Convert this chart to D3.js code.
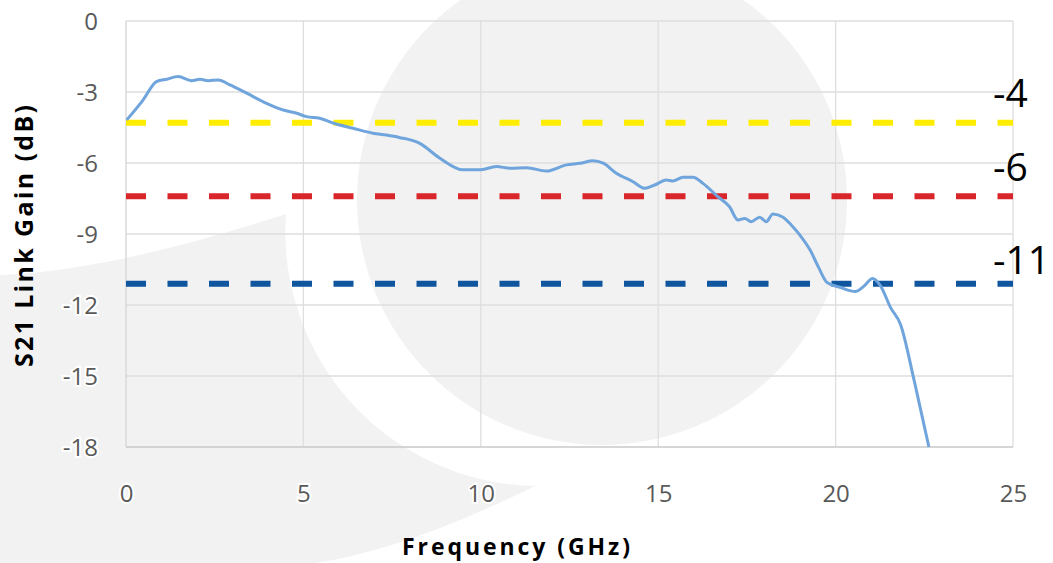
<!DOCTYPE html>
<html lang="en">
  <head>
    <meta charset="UTF-8" />
    <title>S21 Link Gain vs Frequency</title>
    <script src="https://cdn.jsdelivr.net/npm/d3@7/dist/d3.min.js"></script>
    <style>
      body {
        margin: 0;
        background: #fff;
      }
      text {
        font-family: "Open Sans", sans-serif;
      }
      .tick-label {
        font-size: 24px;
        fill: #595959;
        stroke: #fff;
        stroke-width: 4px;
        paint-order: stroke;
      }
      .axis-title {
        font-size: 23px;
        font-weight: bold;
        fill: #000;
      }
      .limit-label {
        font-size: 39px;
        fill: #000;
      }
    </style>
  </head>
  <body>
    <svg width="1053" height="563"></svg>
    <script>
      const svg = d3.select("svg"),
        width = +svg.attr("width"),
        height = +svg.attr("height");

      const freq = [
        0.02, 0.48, 0.86, 1.15, 1.47, 1.85, 2.08, 2.32, 2.6, 2.93, 3.4, 3.96,
        4.43, 4.81, 5.09, 5.46, 5.83, 6.4, 6.96, 7.34, 7.7, 8.28, 8.85, 9.5,
        9.97, 10.44, 10.82, 11.29, 11.85, 12.41, 12.8, 13.16, 13.45, 13.82,
        14.29, 14.62, 14.9, 15.23, 15.41, 15.7, 15.98, 16.26, 16.68, 17.01,
        17.25, 17.44, 17.62, 17.86, 18.05, 18.23, 18.52, 18.75, 19.0, 19.29,
        19.52, 19.76, 20.14, 20.56, 20.8, 21.04, 21.27, 21.55, 21.83, 22.22,
        22.63,
      ];
      const gain = [
        -4.18, -3.34, -2.56, -2.46, -2.35, -2.52, -2.46, -2.52, -2.49, -2.7,
        -3.05, -3.48, -3.76, -3.9, -4.04, -4.11, -4.31, -4.53, -4.74, -4.82,
        -4.92, -5.17, -5.8, -6.29, -6.29, -6.15, -6.22, -6.2, -6.34, -6.08,
        -6.01, -5.91, -6.01, -6.43, -6.79, -7.07, -6.93, -6.72, -6.76, -6.6,
        -6.6, -6.86, -7.42, -7.85, -8.41, -8.34, -8.48, -8.29, -8.48, -8.15,
        -8.29, -8.62, -9.06, -9.7, -10.41, -11.05, -11.26, -11.43, -11.2,
        -10.88, -11.2, -12.11, -12.82, -15.23, -18.0,
      ];

      // dashed reference lines and their labels
      const limitValues = [-4.3, -7.4, -11.1];
      const limitLabels = ["-4", "-6", "-11"];
      const limitColors = ["#ffed00", "#d9262b", "#0f569f"];
      const labelBaselines = [107, 181, 274];

      const xTicks = [0, 5, 10, 15, 20, 25];
      const yTicks = [0, -3, -6, -9, -12, -15, -18];

      const margin = { left: 126, right: 40, top: 21, bottom: 116 };

      const x = d3
        .scaleLinear()
        .domain([0, 25])
        .range([margin.left, width - margin.right]);
      const y = d3
        .scaleLinear()
        .domain([-18, 0])
        .range([height - margin.bottom, margin.top]);

      // background watermark
      const wm = svg.append("g").attr("fill", "#f2f2f2");
      wm.append("path").attr(
        "d",
        "M286,214 Q111,271 0,275 L0,563 L315,563 Q405,550 535,486 A254,254 0 0 1 286,214 Z"
      );
      wm.append("circle").attr("cx", 602).attr("cy", 200).attr("r", 245);

      // grid
      const grid = svg.append("g").attr("stroke", "#dedede").attr("stroke-width", 1.3);
      grid
        .selectAll(".hgrid")
        .data(yTicks.slice(0, -1))
        .enter()
        .append("line")
        .attr("x1", x(0))
        .attr("x2", x(25))
        .attr("y1", (d) => y(d))
        .attr("y2", (d) => y(d));
      grid
        .selectAll(".vgrid")
        .data(xTicks.slice(1))
        .enter()
        .append("line")
        .attr("y1", y(0))
        .attr("y2", y(-18))
        .attr("x1", (d) => x(d))
        .attr("x2", (d) => x(d));

      // axis lines
      svg
        .append("line")
        .attr("x1", x(0))
        .attr("x2", x(25))
        .attr("y1", y(-18))
        .attr("y2", y(-18))
        .attr("stroke", "#c8c8c8")
        .attr("stroke-width", 1.5);
      svg
        .append("line")
        .attr("x1", x(0))
        .attr("x2", x(0))
        .attr("y1", y(0))
        .attr("y2", y(-18))
        .attr("stroke", "#d4d4d4")
        .attr("stroke-width", 1.3);

      // tick labels via d3 axes, lines hidden
      const plain = (d) => String(d);
      const yAxis = svg
        .append("g")
        .attr("transform", `translate(98,0)`)
        .call(
          d3.axisLeft(y).tickValues(yTicks).tickFormat(plain).tickSize(0).tickPadding(0)
        );
      const xAxis = svg
        .append("g")
        .attr("transform", `translate(0,${y(-18) + 38})`)
        .call(
          d3.axisBottom(x).tickValues(xTicks).tickFormat(plain).tickSize(0).tickPadding(0)
        );
      [xAxis, yAxis].forEach((g) => {
        g.select(".domain").remove();
        g.selectAll("text")
          .attr("class", "tick-label")
          .style("font-family", "'Open Sans', sans-serif");
      });
      yAxis.selectAll("text").attr("dy", "0.35em");
      xAxis.selectAll("text").attr("dy", "0.72em");

      // dashed limit lines
      svg
        .append("g")
        .selectAll("line")
        .data(limitValues)
        .enter()
        .append("line")
        .attr("x1", x(0))
        .attr("x2", x(25))
        .attr("y1", (d) => y(d))
        .attr("y2", (d) => y(d))
        .attr("stroke", (d, i) => limitColors[i])
        .attr("stroke-width", 6)
        .attr("stroke-dasharray", "20 21.5");

      // data line
      const data = freq.map((f, i) => ({ f: f, g: gain[i] }));
      svg
        .append("path")
        .datum(data)
        .attr("fill", "none")
        .attr("stroke", "#6fa5dc")
        .attr("stroke-width", 3)
        .attr("stroke-linejoin", "round")
        .attr(
          "d",
          d3
            .line()
            .x((d) => x(d.f))
            .y((d) => y(d.g))
            .curve(d3.curveMonotoneX)
        );

      // limit labels
      svg
        .append("g")
        .selectAll("text")
        .data(limitLabels)
        .enter()
        .append("text")
        .attr("class", "limit-label")
        .attr("x", 993)
        .attr("y", (d, i) => labelBaselines[i])
        .text((d) => d);

      // axis titles
      svg
        .append("text")
        .attr("class", "axis-title")
        .attr("x", 516)
        .attr("y", 555)
        .attr("text-anchor", "middle")
        .attr("textLength", 228)
        .attr("lengthAdjust", "spacing")
        .text("Frequency (GHz)");

      svg
        .append("text")
        .attr("class", "axis-title")
        .attr("transform", "translate(33,236) rotate(-90)")
        .attr("text-anchor", "middle")
        .attr("textLength", 262)
        .attr("lengthAdjust", "spacing")
        .style("font-size", "25px")
        .text("S21 Link Gain (dB)");
    </script>
  </body>
</html>
